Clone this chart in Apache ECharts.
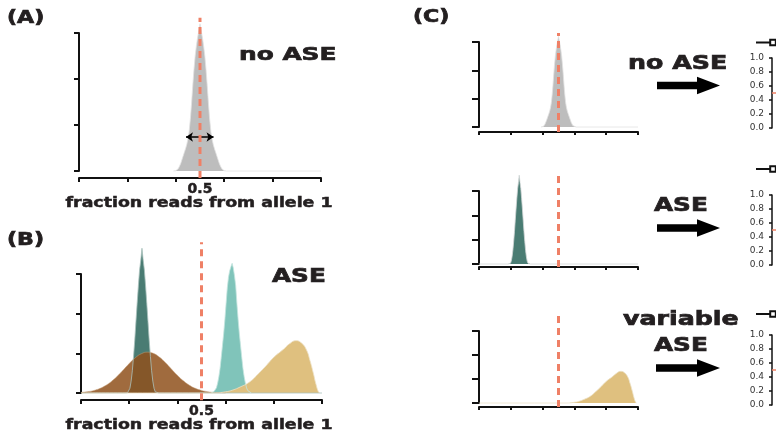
<!DOCTYPE html>
<html>
<head>
<meta charset="utf-8">
<script src="https://cdn.jsdelivr.net/npm/echarts@6/dist/echarts.min.js"></script>
<style>html,body{margin:0;padding:0;background:#fff}#c{width:776px;height:432px}</style>
</head>
<body>
<div id="c"></div>
<script>
// ---------------- data ----------------
const xTickValues = [0, 0.2, 0.4, 0.6, 0.8, 1.0];
const xLabelValues = [0.5];
const insetTickLabels = [0.0, 0.2, 0.4, 0.6, 0.8, 1.0];
const refValue = 0.5;

// density: no ASE (grey, centred at 0.5)
const noAseDensity = [[0.39,0],[0.4,0.005],[0.405,0.02],[0.41,0.05],[0.415,0.1],[0.42,0.16],[0.425,0.24],[0.43,0.32],[0.435,0.4],[0.44,0.48],[0.445,0.57],[0.45,0.69],[0.455,0.86],[0.46,1.12],[0.465,1.46],[0.47,1.85],[0.475,2.2],[0.48,2.5],[0.485,2.72],[0.49,2.9],[0.495,3.05],[0.5,3.2],[0.505,3.05],[0.51,2.9],[0.515,2.72],[0.52,2.5],[0.525,2.2],[0.53,1.85],[0.535,1.46],[0.54,1.12],[0.545,0.86],[0.55,0.69],[0.555,0.57],[0.56,0.48],[0.565,0.4],[0.57,0.32],[0.575,0.24],[0.58,0.16],[0.585,0.1],[0.59,0.05],[0.595,0.02],[0.6,0.005],[0.61,0],[1,0]];

// density: ASE, dark teal (narrow, ~0.25)
const aseDarkDensity = [[0,0],[0.183,0],[0.193,0.005],[0.198,0.03],[0.203,0.12],[0.208,0.3],[0.213,0.56],[0.218,0.92],[0.223,1.33],[0.228,1.8],[0.233,2.26],[0.238,2.7],[0.243,3.1],[0.248,3.35],[0.253,3.65],[0.258,3.35],[0.263,3.1],[0.268,2.7],[0.273,2.26],[0.278,1.8],[0.283,1.33],[0.288,0.92],[0.293,0.56],[0.298,0.3],[0.303,0.12],[0.308,0.03],[0.313,0.005],[0.323,0],[1,0]];

// density: ASE, brown (wide, ~0.28)
const aseBrownDensity = [[0,0.015],[0.025,0.031],[0.05,0.059],[0.075,0.107],[0.1,0.182],[0.125,0.286],[0.15,0.421],[0.175,0.579],[0.2,0.742],[0.225,0.887],[0.25,0.989],[0.277,1.03],[0.3,1.0],[0.325,0.907],[0.35,0.767],[0.375,0.605],[0.4,0.446],[0.425,0.306],[0.45,0.196],[0.475,0.117],[0.5,0.066],[0.525,0.034],[0.55,0.017],[0.575,0.007],[0.6,0]];

// density: ASE, light teal (narrow, ~0.63)
const aseLightDensity = [[0.54,0],[0.547,0.02],[0.552,0.04],[0.557,0.07],[0.562,0.13],[0.567,0.25],[0.572,0.41],[0.577,0.62],[0.582,0.9],[0.587,1.2],[0.592,1.5],[0.597,1.85],[0.602,2.25],[0.607,2.65],[0.612,2.92],[0.617,3.08],[0.622,3.18],[0.627,3.27],[0.632,3.15],[0.637,2.95],[0.642,2.7],[0.647,2.25],[0.652,1.85],[0.657,1.5],[0.662,1.2],[0.667,0.9],[0.672,0.62],[0.677,0.41],[0.682,0.25],[0.687,0.13],[0.692,0.06],[0.697,0.02],[0.707,0]];

// density: variable ASE, gold (skewed, mode ~0.89)
const varAseDensity = [[0,0],[0.55,0],[0.6,0.03],[0.63,0.075],[0.66,0.15],[0.7,0.28],[0.735,0.48],[0.77,0.7],[0.8,0.9],[0.84,1.1],[0.865,1.24],[0.892,1.32],[0.915,1.26],[0.936,1.08],[0.95,0.82],[0.964,0.5],[0.975,0.22],[0.985,0.03],[0.99,0]];

// extents of the dashed reference line at 0.5 in each panel (y units)
const refSpanA  = [-0.15, 3.33];
const refSpanB  = [-0.18, 3.80];
const refSpanC1 = [-0.18, 3.32];
const refSpanC2 = [-0.12, 3.79];
const refSpanC3 = [-0.17, 3.83];

// width arrow in panel A
const widthArrow = { y: 0.74, from: 0.442, to: 0.556 };

// inset reference ratio
const insetRef = [[0, 0.5], [1, 0.5]];
const insetSeriesName = 'allelic ratio';

// ---------------- styles ----------------
const INK = '#231f20';
const RED = '#ef8066';
const GREY = '#bdbdbd';
const TEAL_D = '#4a7c73';
const TEAL_L = '#80c4ba';
const BROWN = 'rgba(143,81,28,0.85)';
const GOLD = '#dfc07f';
const FONT = '"DejaVu Sans", sans-serif';

const grids = [
  { left: 79,  top: 33,  width: 242, height: 138 }, // A
  { left: 81,  top: 274, width: 241, height: 119 }, // B
  { left: 479, top: 42,  width: 159, height: 85 },  // C1
  { left: 479, top: 191, width: 159, height: 73 },  // C2
  { left: 479, top: 331, width: 159, height: 72 },  // C3
  { left: 772, top: 58,  width: 60, height: 70 },   // inset 1
  { left: 772, top: 195, width: 60, height: 70 },   // inset 2
  { left: 772, top: 335, width: 60, height: 70 }    // inset 3
];

function xAx(gi, offset, tickLen, withLabel) {
  return {
    gridIndex: gi, type: 'value', min: 0, max: 1, interval: 0.2, offset: offset,
    axisLine: { show: true, onZero: false, lineStyle: { color: '#111', width: 2 } },
    axisTick: { show: true, length: tickLen, customValues: xTickValues, lineStyle: { color: '#111', width: 2 } },
    splitLine: { show: false },
    axisLabel: withLabel ? { show: true, customValues: xLabelValues, margin: 4,
      fontFamily: FONT, fontWeight: 'bold', fontSize: 14, color: INK,
      textBorderColor: INK, textBorderWidth: 0.5,
      formatter: v => String(v) } : { show: false }
  };
}
function yAx(gi, offset, tickLen) {
  return {
    gridIndex: gi, type: 'value', min: 0, max: 3, interval: 1, offset: offset,
    axisLine: { show: true, lineStyle: { color: '#111', width: 2 } },
    axisTick: { show: true, length: tickLen, lineStyle: { color: '#111', width: 2 } },
    splitLine: { show: false }, axisLabel: { show: false }
  };
}
function insetX(gi) { return { gridIndex: gi, type: 'value', min: 0, max: 1, show: false }; }
function insetY(gi) {
  return {
    gridIndex: gi, type: 'value', min: insetTickLabels[0], max: insetTickLabels[insetTickLabels.length - 1], interval: 0.2, offset: 2,
    axisLine: { show: true, lineStyle: { color: '#111', width: 1.5 } },
    axisTick: { show: true, length: 3, lineStyle: { color: '#111', width: 1.5 } },
    splitLine: { show: false },
    axisLabel: { show: true, margin: 6, fontFamily: FONT, fontSize: 9, color: '#333', formatter: v => v.toFixed(1) }
  };
}
function density(gi, data, fill, edge, smooth) {
  return {
    type: 'line', xAxisIndex: gi, yAxisIndex: gi, data: data, clip: false,
    symbol: 'none', smooth: smooth ? 0.5 : false,
    lineStyle: { color: edge, width: 0.8 }, areaStyle: { color: fill, opacity: 1 },
    silent: true, z: 2
  };
}
function refLine(gi, span, extra) {
  const s = {
    type: 'line', xAxisIndex: gi, yAxisIndex: gi, clip: false, symbol: 'none', silent: true, z: 5,
    data: [[refValue, span[0]], [refValue, span[1]]],
    lineStyle: { color: RED, width: 3, type: [7, 5] }
  };
  return Object.assign(s, extra || {});
}
function insetSeries(gi) {
  return [
    { type: 'line', xAxisIndex: gi, yAxisIndex: gi, data: insetRef, symbol: 'none', silent: true,
      lineStyle: { color: RED, width: 1.5 } },
    { type: 'line', name: insetSeriesName, xAxisIndex: gi, yAxisIndex: gi, data: [],
      symbol: 'emptyRect', symbolSize: 6, itemStyle: { color: '#111', borderWidth: 2 },
      lineStyle: { color: '#111', width: 2 } }
  ];
}

const series = [
  density(0, noAseDensity, GREY, '#e2e2e2', false),
  refLine(0, refSpanA, {
    markLine: {
      silent: true, symbol: ['arrow', 'arrow'], symbolSize: 7, label: { show: false },
      lineStyle: { color: '#000', width: 1.5, type: 'solid' },
      data: [[{ coord: [widthArrow.from, widthArrow.y] }, { coord: [widthArrow.to, widthArrow.y] }]]
    }
  }),
  density(1, aseDarkDensity, TEAL_D, '#a9c2bd', false),
  density(1, aseBrownDensity, BROWN, 'rgba(200,160,120,0.6)', true),
  density(1, aseLightDensity, TEAL_L, '#c4e4de', false),
  density(1, varAseDensity, GOLD, '#ece0c4', true),
  refLine(1, refSpanB),
  density(2, noAseDensity, GREY, '#e2e2e2', false),
  refLine(2, refSpanC1),
  density(3, aseDarkDensity, TEAL_D, '#d0d6d5', false),
  refLine(3, refSpanC2),
  density(4, varAseDensity, GOLD, '#ece2c9', true),
  refLine(4, refSpanC3)
].concat(insetSeries(5), insetSeries(6), insetSeries(7));

function label(text, x, y, size, sx, align, bold) {
  return {
    type: 'text', x: x, y: y, scaleX: sx, z: 10, silent: true,
    style: { text: text, x: 0, y: 0, font: 'bold ' + size + 'px ' + FONT, fill: INK,
      stroke: INK, lineWidth: bold || 0.7,
      align: align || 'left', verticalAlign: 'middle', textAlign: align || 'left', textVerticalAlign: 'middle' }
  };
}
function arrow(x0, yc) {
  return {
    type: 'polygon', silent: true, z: 10,
    shape: { points: [[x0, yc - 3.7], [697, yc - 3.7], [697, yc - 8.8], [720, yc], [697, yc + 8.8], [697, yc + 3.7], [x0, yc + 3.7]] },
    style: { fill: '#000' }
  };
}

const legendCommon = {
  left: 755, padding: 0, itemWidth: 34, itemHeight: 7, itemGap: 0, selectedMode: false,
  data: [insetSeriesName], textStyle: { fontSize: 8, color: '#333' }
};

const option = {
  animation: false,
  backgroundColor: '#fff',
  textStyle: { fontFamily: FONT },
  grid: grids,
  xAxis: [xAx(0, 7, 4, true), xAx(1, 7, 4, true), xAx(2, 5, 3, false), xAx(3, 3, 3, false), xAx(4, 4, 3, false),
          insetX(5), insetX(6), insetX(7)],
  yAxis: [yAx(0, 9, 5), yAx(1, 9.5, 5), yAx(2, 3, 7), yAx(3, 4, 7), yAx(4, 4, 7),
          insetY(5), insetY(6), insetY(7)],
  legend: [
    Object.assign({ top: 38.5 }, legendCommon),
    Object.assign({ top: 165 }, legendCommon),
    Object.assign({ top: 310 }, legendCommon)
  ],
  series: series,
  graphic: { elements: [
    label('(A)', 7, 19, 17, 1.3),
    label('(B)', 7, 241, 17, 1.3),
    label('(C)', 413, 18, 17, 1.3),
    label('no ASE', 239, 55.5, 18, 1.38),
    label('ASE', 272, 277, 19, 1.3),
    label('fraction reads from allele 1', 199, 203, 14, 1.24, 'center', 0.5),
    label('fraction reads from allele 1', 199, 425, 14, 1.24, 'center', 0.5),
    label('no ASE', 628, 64, 19, 1.33),
    label('ASE', 654, 206, 19, 1.3),
    label('variable', 623, 320.5, 19, 1.33),
    label('ASE', 654, 346, 19, 1.3),
    arrow(657, 85.5),
    arrow(657, 228),
    arrow(656, 368)
  ] }
};

const chart = echarts.init(document.getElementById('c'), null, { renderer: 'canvas' });
chart.setOption(option);
</script>
</body>
</html>
